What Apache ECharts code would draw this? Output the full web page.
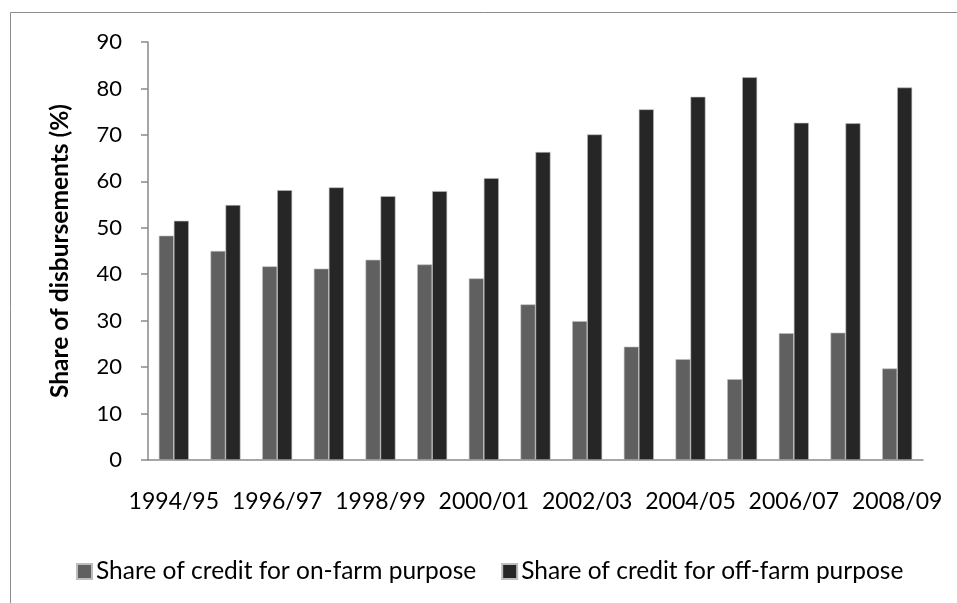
<!DOCTYPE html>
<html>
<head>
<meta charset="utf-8">
<script src="https://cdn.jsdelivr.net/npm/echarts@6/dist/echarts.min.js"></script>
<style>
  html, body { margin: 0; padding: 0; background: #fff; }
  #chart { width: 957px; height: 603px; }
</style>
</head>
<body>
<div id="chart"></div>
<script>
// Fiscal years on the category axis
const years = ['1994/95', '1995/96', '1996/97', '1997/98', '1998/99', '1999/00', '2000/01',
  '2001/02', '2002/03', '2003/04', '2004/05', '2005/06', '2006/07', '2007/08', '2008/09'];

// Share of disbursements (%) by purpose
const onFarm = [48.3, 45.0, 41.7, 41.2, 43.1, 42.1, 39.1, 33.5, 29.9, 24.4, 21.7, 17.4, 27.3, 27.4, 19.7];
const offFarm = [51.5, 54.9, 58.1, 58.7, 56.8, 57.9, 60.7, 66.3, 70.1, 75.5, 78.2, 82.4, 72.6, 72.5, 80.2];

const seriesNames = ['Share of credit for on-farm purpose', 'Share of credit for off-farm purpose'];
const yAxisTitle = 'Share of disbursements (%)';

const FONT = 'Lato, "Open Sans", sans-serif';
const AXIS_GREY = '#898989';

const chart = echarts.init(document.getElementById('chart'), null, { renderer: 'canvas' });

chart.setOption({
  animation: false,
  backgroundColor: '#fff',
  textStyle: { fontFamily: FONT },
  graphic: [{
    type: 'rect',
    shape: { x: 10.5, y: 12.5, width: 960, height: 620 },
    style: { fill: 'none', stroke: '#8c8c8c', lineWidth: 1 },
    silent: true
  }],
  grid: { left: 148, right: 34, top: 42, bottom: 143, containLabel: false },
  legend: {
    top: 559,
    left: 76,
    padding: 0,
    itemWidth: 15,
    itemHeight: 15,
    itemGap: 25,
    icon: 'rect',
    textStyle: { fontFamily: FONT, fontSize: 24.5, color: '#000', padding: [0, 0, 0, -1] },
    data: seriesNames
  },
  xAxis: {
    type: 'category',
    data: years,
    axisLine: { lineStyle: { color: AXIS_GREY, width: 1.5 } },
    axisTick: { interval: 0, length: 8, lineStyle: { color: AXIS_GREY, width: 1.5 } },
    axisLabel: { interval: 1, margin: 30, fontSize: 23, color: '#000', fontFamily: FONT }
  },
  yAxis: {
    type: 'value',
    min: 0,
    max: 90,
    interval: 10,
    name: yAxisTitle,
    nameLocation: 'middle',
    nameGap: 75,
    nameTextStyle: { fontFamily: FONT, fontSize: 24.5, fontWeight: 'bold', color: '#000' },
    splitLine: { show: false },
    axisLine: { show: true, lineStyle: { color: AXIS_GREY, width: 1.5 } },
    axisTick: { show: true, length: 7, lineStyle: { color: AXIS_GREY, width: 1.5 } },
    axisLabel: { margin: 26, fontSize: 22, color: '#000', fontFamily: FONT }
  },
  series: [
    {
      name: seriesNames[0],
      type: 'bar',
      data: onFarm,
      barGap: '0%',
      barCategoryGap: '42%',
      itemStyle: { color: '#606060', borderColor: '#bdbdbd', borderWidth: 0.6 }
    },
    {
      name: seriesNames[1],
      type: 'bar',
      data: offFarm,
      barGap: '0%',
      barCategoryGap: '42%',
      itemStyle: { color: '#262626', borderColor: '#bdbdbd', borderWidth: 0.6 }
    }
  ]
});
</script>
</body>
</html>
